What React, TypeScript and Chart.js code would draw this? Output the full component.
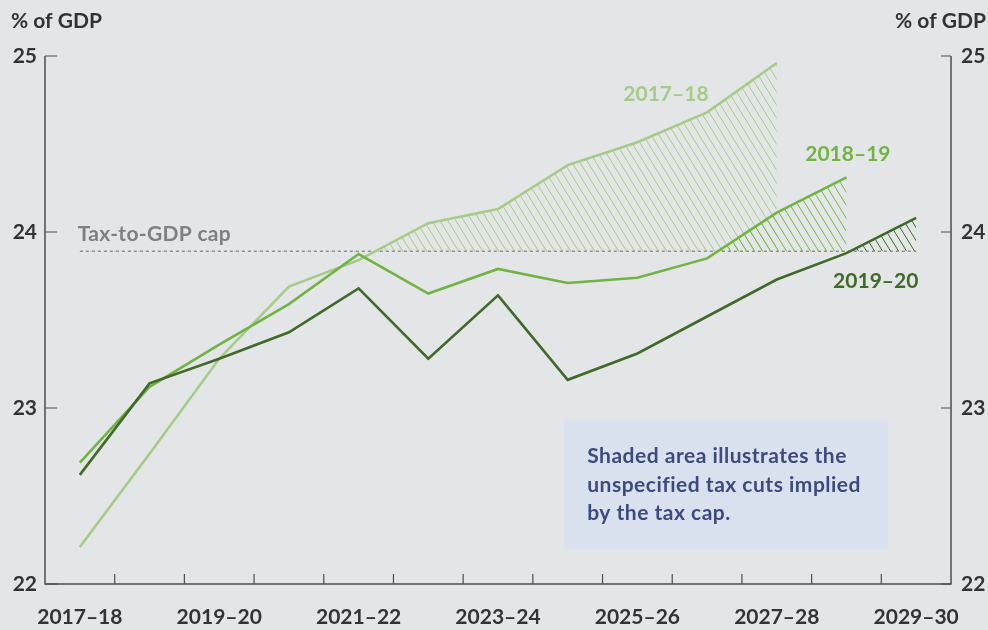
import React, { useEffect, useRef } from 'react';
import { Chart, registerables } from 'chart.js';

Chart.register(...registerables);

// ---------- Data ----------
const categories = [
  '2017–18', '2018–19', '2019–20', '2020–21', '2021–22', '2022–23', '2023–24',
  '2024–25', '2025–26', '2026–27', '2027–28', '2028–29', '2029–30',
];
const tickLabels = [
  '2017–18', '', '2019–20', '', '2021–22', '', '2023–24',
  '', '2025–26', '', '2027–28', '', '2029–30',
];
const budget2017_18 = [22.21, 22.74, 23.28, 23.69, 23.84, 24.05, 24.13, 24.38, 24.51, 24.68, 24.96];
const budget2018_19 = [22.69, 23.12, 23.36, 23.59, 23.875, 23.65, 23.79, 23.71, 23.74, 23.85, 24.11, 24.31];
const budget2019_20 = [22.62, 23.14, 23.28, 23.43, 23.68, 23.28, 23.64, 23.16, 23.31, 23.52, 23.73, 23.88, 24.08];
const taxCap = [23.89, 23.89, 23.89, 23.89, 23.89, 23.89, 23.89, 23.89, 23.89, 23.89, 23.89, 23.89, 23.89];
const yTicks = [22, 23, 24, 25];

const seriesLabels = [
  { text: '2017–18', x: 8.41, y: 24.78 },
  { text: '2018–19', x: 11.02, y: 24.44 },
  { text: '2019–20', x: 11.42, y: 23.72 },
];
const noteLines = [
  'Shaded area illustrates the',
  'unspecified tax cuts implied',
  'by the tax cap.',
];

// ---------- Styles ----------
const BG = '#e4e5e7';
const LIGHT = '#a4cc88';
const MID = '#72b443';
const DARK = '#3e6a2a';
const AXIS = '#4d4d4d';
const TEXT = '#333333';
const FONT = 'Lato, "Open Sans", sans-serif';

function makeHatch(color: string): CanvasPattern | string {
  const w = 8, h = 13;
  const c = document.createElement('canvas');
  c.width = w; c.height = h;
  const g = c.getContext('2d');
  if (!g) return color;
  g.strokeStyle = color;
  g.lineWidth = 1;
  g.beginPath();
  for (const dx of [-w, 0, w]) {
    g.moveTo(dx, 0);
    g.lineTo(dx + w, h);
  }
  g.stroke();
  return g.createPattern(c, 'repeat') || color;
}

const overlayPlugin = {
  id: 'overlay',
  afterDatasetsDraw(chart: any) {
    const { ctx, scales } = chart;
    const xs = scales.x, ys = scales.y;
    const area = chart.chartArea;
    ctx.save();

    // axes lines
    ctx.strokeStyle = AXIS;
    ctx.lineWidth = 1.5;
    ctx.beginPath();
    ctx.moveTo(area.left, area.top);
    ctx.lineTo(area.left, area.bottom);
    ctx.lineTo(area.right, area.bottom);
    ctx.lineTo(area.right, area.top);
    ctx.stroke();

    // y tick marks (inward)
    ctx.lineWidth = 1.2;
    ctx.beginPath();
    for (const v of yTicks) {
      const py = ys.getPixelForValue(v);
      ctx.moveTo(area.left, py);
      ctx.lineTo(area.left + 12, py);
      ctx.moveTo(area.right - 10, py);
      ctx.lineTo(area.right, py);
    }
    // x tick marks at category boundaries (inward)
    for (let i = 0; i < categories.length - 1; i++) {
      const px = xs.getPixelForValue(i + 0.5);
      ctx.moveTo(px, area.bottom);
      ctx.lineTo(px, area.bottom - 10);
    }
    ctx.stroke();

    // % of GDP titles
    ctx.font = `bold 21px ${FONT}`;
    ctx.fillStyle = TEXT;
    ctx.textBaseline = 'middle';
    ctx.textAlign = 'left';
    ctx.fillText('% of GDP', 11, 21);
    ctx.textAlign = 'right';
    ctx.fillText('% of GDP', 986, 21);

    // tax cap label
    ctx.fillStyle = '#7f7f7f';
    ctx.textAlign = 'left';
    (ctx as any).letterSpacing = '0.3px';
    ctx.fillText('Tax-to-GDP cap', xs.getPixelForValue(-0.03), ys.getPixelForValue(23.99));
    (ctx as any).letterSpacing = '0px';

    // series labels
    const colors = [LIGHT, MID, DARK];
    seriesLabels.forEach((l, i) => {
      ctx.fillStyle = colors[i];
      ctx.textAlign = 'center';
      ctx.fillText(l.text, xs.getPixelForValue(l.x), ys.getPixelForValue(l.y));
    });

    // note box
    const bx0 = xs.getPixelForValue(6.95), bx1 = xs.getPixelForValue(11.6);
    const by0 = ys.getPixelForValue(22.93), by1 = ys.getPixelForValue(22.2);
    ctx.fillStyle = '#d9e0ee';
    ctx.fillRect(bx0, by0, bx1 - bx0, by1 - by0);
    ctx.fillStyle = '#3d4a7e';
    ctx.font = `bold 21px ${FONT}`;
    (ctx as any).letterSpacing = '0.5px';
    ctx.textAlign = 'left';
    ctx.textBaseline = 'alphabetic';
    noteLines.forEach((t, i) => {
      ctx.fillText(t, bx0 + 23, by0 + 43 + i * 28.5);
    });
    (ctx as any).letterSpacing = '0px';
    ctx.restore();
  },
};

export default function App() {
  const ref = useRef<HTMLCanvasElement | null>(null);

  useEffect(() => {
    const canvas = ref.current;
    if (!canvas) return;
    const tickFont = { family: FONT, size: 21, weight: 'bold' as const };
    const chart = new Chart(canvas, {
      type: 'line',
      data: {
        labels: categories,
        datasets: [
          {
            label: 'Tax-to-GDP cap',
            data: taxCap,
            borderColor: '#8f8f8f',
            borderWidth: 1.5,
            borderDash: [3, 3],
            pointRadius: 0,
            fill: false,
            order: 4,
            yAxisID: 'y',
          },
          {
            label: '2017–18',
            data: budget2017_18,
            borderColor: LIGHT,
            borderWidth: 2.6,
            pointRadius: 0,
            fill: { target: 0, above: makeHatch(LIGHT), below: 'rgba(0,0,0,0)' },
            order: 3,
            yAxisID: 'y',
          },
          {
            label: '2018–19',
            data: budget2018_19,
            borderColor: MID,
            borderWidth: 2.6,
            pointRadius: 0,
            fill: { target: 0, above: makeHatch(MID), below: 'rgba(0,0,0,0)' },
            order: 2,
            yAxisID: 'y',
          },
          {
            label: '2019–20',
            data: budget2019_20,
            borderColor: DARK,
            borderWidth: 2.6,
            pointRadius: 0,
            fill: { target: 0, above: makeHatch(DARK), below: 'rgba(0,0,0,0)' },
            order: 1,
            yAxisID: 'y',
          },
        ] as any,
      },
      options: {
        animation: false,
        responsive: false,
        maintainAspectRatio: false,
        layout: { padding: { top: 56, left: 0, right: 0, bottom: 0 } },
        plugins: {
          legend: { display: false },
          tooltip: { enabled: false },
        },
        scales: {
          x: {
            type: 'category',
            offset: true,
            grid: { display: false, drawTicks: false },
            border: { display: false },
            ticks: {
              autoSkip: false,
              maxRotation: 0,
              minRotation: 0,
              padding: 21,
              color: TEXT,
              font: tickFont,
              callback: (_v: any, i: number) => tickLabels[i],
            },
            afterFit: (s: any) => { s.height = 46; },
          },
          y: {
            position: 'left',
            min: 22,
            max: 25,
            grid: { display: false, drawTicks: false },
            border: { display: false },
            ticks: { stepSize: 1, padding: 8, color: TEXT, font: tickFont },
            afterFit: (s: any) => { s.width = 45; },
          },
          y2: {
            position: 'right',
            min: 22,
            max: 25,
            grid: { display: false, drawTicks: false },
            border: { display: false },
            ticks: { stepSize: 1, padding: 10, color: TEXT, font: tickFont },
            afterFit: (s: any) => { s.width = 37; },
          },
        },
      } as any,
      plugins: [overlayPlugin],
    });
    if ((document as any).fonts?.ready) {
      (document as any).fonts.ready.then(() => { try { chart.update(); } catch (e) { /* ignore */ } });
    }
    return () => chart.destroy();
  }, []);

  return (
    <div style={{ position: 'fixed', left: 0, top: 0, width: 988, height: 630, background: BG }}>
      <canvas ref={ref} width={988} height={630} style={{ width: 988, height: 630, display: 'block' }} />
    </div>
  );
}
